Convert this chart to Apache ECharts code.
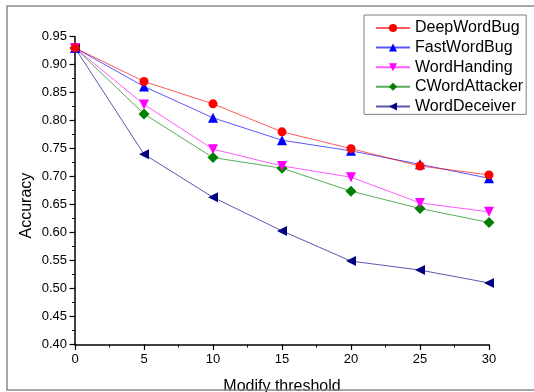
<!DOCTYPE html>
<html>
<head>
<meta charset="utf-8">
<script src="https://cdn.jsdelivr.net/npm/echarts@6/dist/echarts.min.js"></script>
<style>
  html, body { margin: 0; padding: 0; background: #fff; }
  #chart { width: 534px; height: 392px; }
</style>
</head>
<body>
<div id="chart"></div>
<script>
// Modify threshold values on the x axis
const thresholds = [0, 5, 10, 15, 20, 25, 30];

// Accuracy of each attack method at each threshold
const deepWordBug   = [0.930, 0.870, 0.830, 0.780, 0.750, 0.719, 0.703];
const fastWordBug   = [0.930, 0.861, 0.805, 0.765, 0.746, 0.722, 0.697];
const wordHanding   = [0.930, 0.829, 0.749, 0.719, 0.699, 0.653, 0.637];
const cWordAttacker = [0.930, 0.812, 0.734, 0.715, 0.674, 0.643, 0.618];
const wordDeceiver  = [0.930, 0.740, 0.663, 0.603, 0.549, 0.533, 0.510];

const seriesNames = ['DeepWordBug', 'FastWordBug', 'WordHanding', 'CWordAttacker', 'WordDeceiver'];
const seriesValues = [deepWordBug, fastWordBug, wordHanding, cWordAttacker, wordDeceiver];

const FONT = '"Liberation Sans", Arial, sans-serif';

const styles = [
  { color: '#ff0000', symbol: 'circle',   size: 9,  rotate: 0 },
  { color: '#0000ff', symbol: 'triangle', size: 10, rotate: 0 },
  { color: '#ff00ff', symbol: 'triangle', size: 10, rotate: 180 },
  { color: '#008000', symbol: 'diamond',  size: 11, rotate: 0 },
  { color: '#000080', symbol: 'triangle', size: 10, rotate: 90 }
];

const series = seriesNames.map((name, i) => ({
  name: name,
  type: 'line',
  data: thresholds.map((x, j) => [x, seriesValues[i][j]]),
  symbol: styles[i].symbol,
  symbolSize: styles[i].size,
  symbolRotate: styles[i].rotate,
  showAllSymbol: true,
  clip: true,
  itemStyle: { color: styles[i].color },
  lineStyle: { color: styles[i].color, width: 1, opacity: 0.65 },
  emphasis: { disabled: true },
  z: 10 - i
}));

const chart = echarts.init(document.getElementById('chart'), null, { renderer: 'canvas' });

chart.setOption({
  animation: false,
  backgroundColor: '#ffffff',
  textStyle: { fontFamily: FONT },
  grid: {
    left: 75, right: 45, top: 36.7, bottom: 47.5,
    containLabel: false,
    outerBoundsMode: 'none'
  },
  legend: {
    orient: 'vertical',
    left: 364,
    top: 15,
    padding: [5, 3, 0, 11],
    itemWidth: 34,
    itemHeight: 10,
    itemGap: 3.6,
    borderColor: '#808080',
    borderWidth: 1,
    backgroundColor: '#ffffff',
    textStyle: { fontFamily: FONT, fontSize: 16, color: '#000', lineHeight: 16 },
    data: seriesNames
  },
  xAxis: {
    type: 'value',
    min: 0,
    max: 30,
    interval: 5,
    name: 'Modify threshold',
    nameLocation: 'middle',
    nameGap: 34,
    nameTextStyle: { fontFamily: FONT, fontSize: 16, color: '#000' },
    axisLine: { show: true, onZero: false, lineStyle: { color: '#000', width: 1.5 } },
    axisTick: { show: true, length: 5.5, lineStyle: { color: '#000', width: 1.2 } },
    minorTick: { show: true, splitNumber: 2, length: 3, lineStyle: { color: '#000', width: 1 } },
    axisLabel: { fontFamily: FONT, fontSize: 13, color: '#000', margin: 8 },
    splitLine: { show: false }
  },
  yAxis: {
    type: 'value',
    min: 0.4,
    max: 0.95,
    interval: 0.05,
    name: 'Accuracy',
    nameLocation: 'middle',
    nameGap: 40,
    nameMoveOverlap: false,
    nameTextStyle: { fontFamily: FONT, fontSize: 16, color: '#000', padding: [0, 30, 0, 0] },
    axisLine: { show: true, onZero: false, lineStyle: { color: '#000', width: 1.5 } },
    axisTick: { show: true, length: 5.5, lineStyle: { color: '#000', width: 1.2 } },
    minorTick: { show: true, splitNumber: 2, length: 3, lineStyle: { color: '#000', width: 1 } },
    axisLabel: {
      fontFamily: FONT, fontSize: 13, color: '#000', margin: 8,
      formatter: v => v.toFixed(2)
    },
    splitLine: { show: false }
  },
  graphic: [
    {
      type: 'rect',
      shape: { x: 7, y: 6, width: 600, height: 384 },
      style: { fill: null, stroke: '#8a8a8a', lineWidth: 1.5 },
      silent: true,
      z: 100
    }
  ],
  series: series
});
</script>
</body>
</html>
